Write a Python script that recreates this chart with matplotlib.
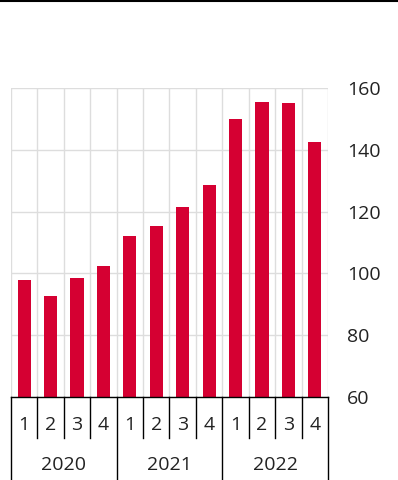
import matplotlib.pyplot as plt
import numpy as np

years = ['2020', '2021', '2022']
quarters = ['1', '2', '3', '4']
values = [98.0, 92.7, 98.5, 102.4, 112.1, 115.3, 121.5, 128.6, 150.0, 155.5, 155.1, 142.5]
yticks = [60, 80, 100, 120, 140, 160]

plt.rcParams['font.family'] = ['Open Sans', 'DejaVu Sans']

W, H = 398, 480
fig = plt.figure(figsize=(W / 100, H / 100), dpi=100)
x0, x1, ytop, ybot = 11, 328, 88, 397
ax = fig.add_axes([x0 / W, (H - ybot) / H, (x1 - x0) / W, (ybot - ytop) / H])

n = len(values)
x = np.arange(n)
ax.bar(x, np.array(values) - 60, bottom=60, width=0.5, color='#d50032', zorder=3)

ax.set_xlim(-0.5, n - 0.5)
ax.set_ylim(60, 160)
ax.set_yticks(yticks)
ax.yaxis.tick_right()
ax.tick_params(axis='y', length=0, pad=13.5, labelsize=14, colors='#222222')
ax.set_xticks(np.arange(-0.5, n, 1.0), minor=False)
ax.set_xticklabels([])
ax.tick_params(axis='x', length=0)
ax.grid(True, color='#dddddd', linewidth=1, zorder=0)
for s in ['top', 'left', 'right']:
    ax.spines[s].set_visible(False)
ax.spines['bottom'].set_color('black')
ax.spines['bottom'].set_linewidth(1)
ax.spines['bottom'].set_zorder(4)

# two-level category axis
trans = ax.get_xaxis_transform()
def fig_y(py):
    # pixel row -> axes fraction
    return (ybot - py) / (ybot - ytop)

for i in range(n):
    ax.text(i, fig_y(425), quarters[i % 4], transform=trans, ha='center', va='center',
            fontsize=14, color='#222222')
for j, yr in enumerate(years):
    ax.text(j * 4 + 1.5, fig_y(465), yr, transform=trans, ha='center', va='center',
            fontsize=14, color='#222222')
for k in range(n + 1):
    xb = k - 0.5
    end = fig_y(480) if k % 4 == 0 else fig_y(438)
    ax.plot([xb, xb], [0, end], transform=trans, color='black', linewidth=1,
            clip_on=False, zorder=4)

# rule at the top of the figure
fig.add_artist(plt.Line2D([0, 1], [1 - 1 / H, 1 - 1 / H], transform=fig.transFigure,
                          color='black', linewidth=1.5))

fig.savefig('out.png', dpi=100)
